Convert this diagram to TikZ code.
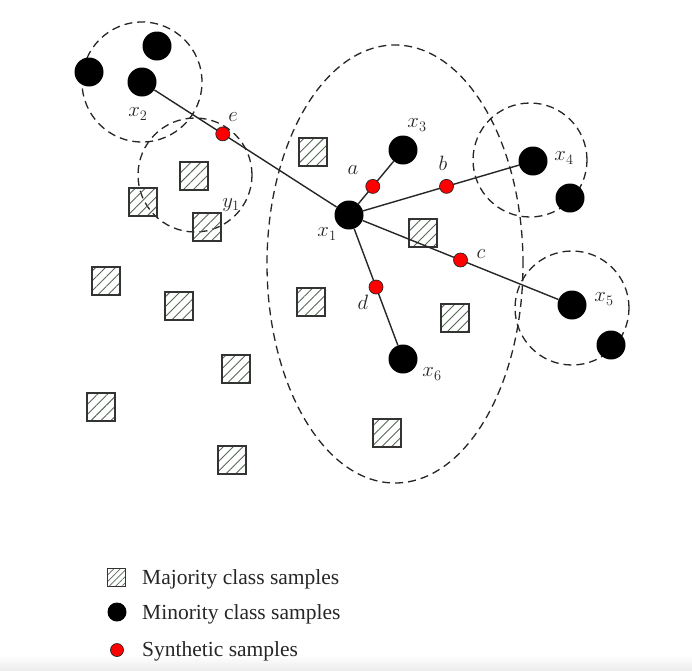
\documentclass[tikz,border=0pt]{standalone}
\usepackage{fontspec}
\setmainfont{Liberation Serif}
\usetikzlibrary{patterns.meta}
\definecolor{hatch}{RGB}{85,105,85}
\tikzset{
  maj/.style={draw=black!80, line width=1.3pt, minimum size=28pt, inner sep=0pt,
    pattern={Lines[angle=45,distance=7pt,line width=0.9pt]}, pattern color=hatch},
  mino/.style={circle, fill=black, minimum size=29pt, inner sep=0pt},
  syn/.style={circle, fill=red, draw=black!85, line width=0.7pt, minimum size=14pt, inner sep=0pt},
  nb/.style={dash pattern=on 8pt off 5pt, line width=1.3pt, black!85},
  link/.style={line width=1.4pt, black!85},
  lbl/.style={font=\fontsize{22}{24}\selectfont, inner sep=0pt, text=black!85},
  legtext/.style={anchor=base west, font=\fontsize{21.5}{24}\selectfont, text=black!85, inner sep=0pt}
}
\begin{document}
\begin{tikzpicture}[x=1pt,y=-1pt]
\useasboundingbox (0,0) rectangle (692,670);
\fill[white] (0,0) rectangle (692,670);
\shade[top color=white, bottom color=gray!14] (0,655) rectangle (692,670);

% neighbourhoods
\draw[nb] (142,82) circle[radius=60pt];
\draw[nb] (195,175) circle[radius=57pt];
\draw[nb] (395,264) ellipse[x radius=128pt, y radius=219pt];
\draw[nb] (530,160) circle[radius=57pt];
\draw[nb] (572,308) circle[radius=57pt];

% majority samples
\node[maj] (m1) at (143,202) {};
\node[maj] (m2) at (194,176) {};
\node[maj] (m3) at (207,227) {};
\node[maj] (m4) at (313,152) {};
\node[maj] (m5) at (423,233) {};
\node[maj] (m6) at (311,302) {};
\node[maj] (m7) at (455,318) {};
\node[maj] (m8) at (387,433) {};
\node[maj] (m9) at (106,281) {};
\node[maj] (m10) at (179,306) {};
\node[maj] (m11) at (236,369) {};
\node[maj] (m12) at (101,407) {};
\node[maj] (m13) at (232,460) {};

% minority samples
\node[mino] (x1) at (349,215) {};
\node[mino] (x2) at (142,82) {};
\node[mino] (x3) at (403,150) {};
\node[mino] (x4) at (533,161) {};
\node[mino] (x5) at (572,305) {};
\node[mino] (x6) at (403,359) {};
\node[mino] (n1) at (89,72) {};
\node[mino] (n2) at (157,46) {};
\node[mino] (n3) at (570,198) {};
\node[mino] (n4) at (611,345) {};

% links
\draw[link] (x2) -- (x1);
\draw[link] (x1) -- (x3);
\draw[link] (x1) -- (x4);
\draw[link] (x1) -- (x5);
\draw[link] (x1) -- (x6);

% synthetic samples
\path (x2.center) -- (x1.center) node[syn, pos=0.39] (e) {};
\path (x1.center) -- (x3.center) node[syn, pos=0.44] (a) {};
\path (x1.center) -- (x4.center) node[syn, pos=0.53] (b) {};
\path (x1.center) -- (x5.center) node[syn, pos=0.50] (c) {};
\path (x1.center) -- (x6.center) node[syn, pos=0.50] (d) {};

% labels
\node[lbl] (lx1) at (327,234) {$x_1$};
\node[lbl] (lx2) at (138,114) {$x_2$};
\node[lbl] (lx3) at (417,125) {$x_3$};
\node[lbl] (lx4) at (564,158) {$x_4$};
\node[lbl] (lx5) at (604,299) {$x_5$};
\node[lbl] (lx6) at (432,374) {$x_6$};
\node[lbl] (ly1) at (231,205) {$y_1$};
\node[lbl] (la) at (353,170) {$a$};
\node[lbl] (lb) at (443,163) {$b$};
\node[lbl] (lc) at (481,254) {$c$};
\node[lbl] (ld) at (363,302) {$d$};
\node[lbl] (le) at (233,117) {$e$};

% legend
\node[maj, minimum size=18pt, line width=1pt, pattern={Lines[angle=45,distance=4.5pt,line width=0.7pt]}] (kmaj) at (116,577) {};
\node[mino, minimum size=19pt] (kmin) at (117,612) {};
\node[syn, minimum size=13pt] (ksyn) at (117,650) {};
\node[legtext] (tmaj) at (142,584) {Majority class samples};
\node[legtext] (tmin) at (142,619) {Minority class samples};
\node[legtext] (tsyn) at (142,656) {Synthetic samples};
\end{tikzpicture}
\end{document}
